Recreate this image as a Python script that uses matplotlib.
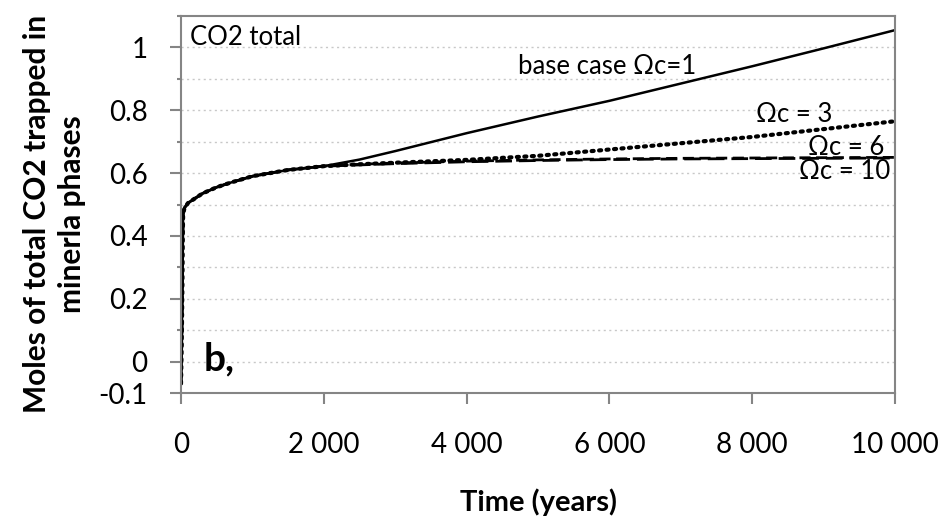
import matplotlib
matplotlib.use("Agg")
import matplotlib.pyplot as plt
from matplotlib.ticker import FuncFormatter, MultipleLocator

plt.rcParams['font.family'] = ['Lato', 'DejaVu Sans']

# Data (time in years, moles of CO2 trapped)
time = [0, 10, 20, 25, 30, 50, 100, 200, 300, 500, 700, 1000, 1500, 2000,
        2500, 3000, 4000, 5000, 6000, 7000, 8000, 9000, 10000]
early = [-0.07, 0.05, 0.25, 0.40, 0.47, 0.49, 0.505, 0.52, 0.535, 0.555, 0.57,
         0.59, 0.61, 0.622]
base_case = early + [0.643, 0.67, 0.727, 0.78, 0.83, 0.885, 0.94, 0.997, 1.055]
omega3 = early + [0.628, 0.633, 0.642, 0.655, 0.675, 0.695, 0.715, 0.74, 0.765]
omega6 = early + [0.628, 0.632, 0.638, 0.642, 0.645, 0.647, 0.648, 0.649, 0.65]
omega10 = early + [0.626, 0.63, 0.636, 0.64, 0.643, 0.645, 0.646, 0.647, 0.648]

x_ticks = [0, 2000, 4000, 6000, 8000, 10000]
y_ticks = [-0.1, 0, 0.2, 0.4, 0.6, 0.8, 1]
y_tick_labels = ["-0.1", "0", "0.2", "0.4", "0.6", "0.8", "1"]

fig = plt.figure(figsize=(9.41, 5.22), dpi=100)
ax = fig.add_axes([181/941, 1-393/522, (895-181)/941, (393-16)/522])

ax.plot(time, base_case, color='black', lw=1.8, ls='-')
ax.plot(time, omega3, color='black', lw=3.0, ls=(0, (0.5, 1.3)), dash_capstyle='round')
ax.plot(time, omega6, color='black', lw=2.0, ls=(0, (4, 2)))
ax.plot(time, omega10, color='black', lw=2.0, ls=(0, (6, 2.5)))

ax.set_xlim(0, 10000)
ax.set_ylim(-0.1, 1.1)

for v in [i/10 for i in range(0, 11)]:
    ax.axhline(v, color='#c8c8c8', lw=1.0, ls=(0, (1.5, 2.5)), zorder=0)

ax.set_xticks(x_ticks)
ax.xaxis.set_major_formatter(FuncFormatter(lambda v, p: f"{int(v):,}".replace(",", " ")))
ax.set_yticks(y_ticks)
ax.set_yticklabels(y_tick_labels)
ax.yaxis.set_minor_locator(MultipleLocator(0.1))

for s in ax.spines.values():
    s.set_color('#858585')
    s.set_linewidth(1.5)

ax.tick_params(axis='both', which='major', direction='out', length=8, width=1.5,
               color='#858585', labelsize=20, labelcolor='black')
ax.tick_params(axis='x', pad=20)
ax.tick_params(axis='y', pad=16)
ax.tick_params(axis='y', which='minor', direction='out', length=3, width=1.5, color='#858585')

ax.set_xlabel("Time (years)", fontsize=21, fontweight='bold', labelpad=22)
ax.set_ylabel("Moles of total CO2 trapped in\nminerla phases", fontsize=21.5,
              fontweight='bold', linespacing=1.3)
ax.yaxis.set_label_coords(-0.133, 0.474)

ax.text(0.013, 0.975, "CO2 total", transform=ax.transAxes, fontsize=18.5,
        ha='left', va='top')
ax.text(0.472, 0.865, "base case Ωc=1", transform=ax.transAxes, fontsize=18.5,
        ha='left', va='center')
ax.text(0.805, 0.74, "Ωc = 3", transform=ax.transAxes, fontsize=18.5,
        ha='left', va='center')
ax.text(0.878, 0.652, "Ωc = 6", transform=ax.transAxes, fontsize=18.5,
        ha='left', va='center')
ax.text(0.866, 0.588, "Ωc = 10", transform=ax.transAxes, fontsize=18.5,
        ha='left', va='center')
ax.text(0.032, 0.09, "b,", transform=ax.transAxes, fontsize=28,
        fontweight='bold', ha='left', va='center')

fig.savefig("out.png", dpi=100)
